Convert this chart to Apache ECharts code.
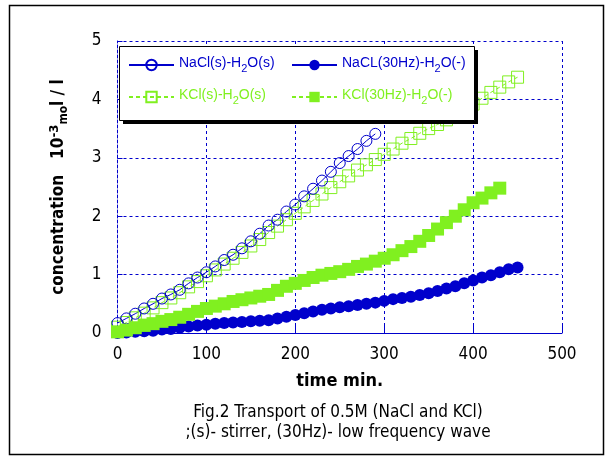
<!DOCTYPE html>
<html><head><meta charset="utf-8">
<script src="https://cdn.jsdelivr.net/npm/echarts@6/dist/echarts.min.js"></script>
<style>html,body{margin:0;padding:0;background:#fff}#c{width:609px;height:459px}</style>
</head><body><div id="c"></div>
<script>
// ---- data ----
var xTicks = [0, 100, 200, 300, 400, 500];
var yTicks = [0, 1, 2, 3, 4, 5];
var seriesNames = ['NaCl(s)-H2O(s)', 'NaCL(30Hz)-H2O(-)', 'KCl(s)-H2O(s)', 'KCl(30Hz)-H2O(-)'];

var tNaClS = [0,10,20,30,40,50,60,70,80,90,100,110,120,130,140,150,160,170,180,190,200,210,220,230,240,250,260,270,280,290];
var vNaClS = [0.17,0.25,0.33,0.42,0.50,0.59,0.66,0.74,0.85,0.95,1.04,1.14,1.25,1.34,1.45,1.57,1.70,1.84,1.94,2.08,2.20,2.34,2.47,2.61,2.76,2.91,3.03,3.15,3.29,3.41];

var tKClS = [0,10,20,30,40,50,60,70,80,90,100,110,120,130,140,150,160,170,180,190,200,210,220,230,240,250,260,270,280,290,300,310,320,330,340,350,360,370,380,390,400,410,420,430,440,450];
var vKClS = [0.10,0.18,0.26,0.34,0.43,0.52,0.60,0.69,0.79,0.88,0.98,1.08,1.18,1.28,1.38,1.49,1.60,1.72,1.83,1.94,2.05,2.16,2.27,2.38,2.49,2.59,2.69,2.79,2.88,2.97,3.06,3.15,3.25,3.33,3.42,3.50,3.57,3.65,3.73,3.82,3.92,4.02,4.12,4.21,4.30,4.38];

var tNaCl30 = [0,10,20,30,40,50,60,70,80,90,100,110,120,130,140,150,160,170,180,190,200,210,220,230,240,250,260,270,280,290,300,310,320,330,340,350,360,370,380,390,400,410,420,430,440,450];
var vNaCl30 = [0.00,0.01,0.02,0.03,0.04,0.06,0.07,0.09,0.11,0.13,0.14,0.16,0.17,0.18,0.19,0.20,0.21,0.22,0.25,0.28,0.31,0.34,0.37,0.40,0.42,0.44,0.46,0.48,0.50,0.52,0.55,0.58,0.60,0.62,0.65,0.68,0.72,0.76,0.80,0.85,0.90,0.95,0.99,1.04,1.09,1.12];

var tKCl30 = [0,10,20,30,40,50,60,70,80,90,100,110,120,130,140,150,160,170,180,190,200,210,220,230,240,250,260,270,280,290,300,310,320,330,340,350,360,370,380,390,400,410,420,430];
var vKCl30 = [0.02,0.05,0.09,0.13,0.16,0.20,0.23,0.27,0.32,0.37,0.42,0.46,0.50,0.54,0.57,0.60,0.63,0.66,0.73,0.80,0.85,0.90,0.95,0.99,1.02,1.05,1.09,1.14,1.18,1.23,1.28,1.34,1.41,1.48,1.57,1.67,1.78,1.89,2.00,2.11,2.23,2.31,2.40,2.48];

function pairs(t, v) { return t.map(function (x, i) { return [x, v[i]]; }); }

var BLUE = '#0000cc';
var GREEN = '#80f020';
var FONT = '"DejaVu Sans Condensed","Liberation Sans Narrow",sans-serif';
var LFONT = '"Liberation Sans",Arial,sans-serif';

function legendFmt(name) {
  var i = name.indexOf('H2O');
  return '{a|' + name.slice(0, i + 1) + '}{s|2}{a|' + name.slice(i + 2) + '}';
}
function legendRich(color) {
  return {
    a: { fontFamily: LFONT, fontSize: 14, color: color, lineHeight: 18, verticalAlign: 'top' },
    s: { fontFamily: LFONT, fontSize: 11, color: color, lineHeight: 18, verticalAlign: 'bottom', padding: [10, 0, 0, 0] }
  };
}
function mkLegend(name, left, top, color) {
  return {
    data: [name], left: left, top: top, orient: 'horizontal',
    itemWidth: 45, itemHeight: 13, itemGap: 0, selectedMode: false,
    formatter: legendFmt,
    textStyle: { color: color, fontFamily: LFONT, fontSize: 14, rich: legendRich(color) }
  };
}

var chart = echarts.init(document.getElementById('c'), null, { renderer: 'canvas' });
chart.setOption({
  animation: false,
  backgroundColor: '#fff',
  title: {
    text: 'Fig.2 Transport of 0.5M (NaCl and KCl)\n;(s)- stirrer, (30Hz)- low frequency wave',
    left: 333, top: 398, textAlign: 'center',
    textStyle: { fontFamily: FONT, fontSize: 17, fontWeight: 'normal', color: '#000', lineHeight: 20 }
  },
  graphic: [
    { type: 'rect', z: 0, silent: true, shape: { x: 9.5, y: 5.5, width: 594, height: 449 }, style: { fill: null, stroke: '#000', lineWidth: 1.5 } },
    { type: 'rect', z: 3, silent: true, shape: { x: 123, y: 50, width: 355, height: 74 }, style: { fill: '#000' } },
    { type: 'rect', z: 3, silent: true, shape: { x: 119.5, y: 46.5, width: 355, height: 74 }, style: { fill: '#fff', stroke: '#000', lineWidth: 1 } }
  ],
  legend: [
    mkLegend(seriesNames[0], 123, 48, BLUE),
    mkLegend(seriesNames[1], 286, 48, BLUE),
    mkLegend(seriesNames[2], 123, 80, GREEN),
    mkLegend(seriesNames[3], 286, 80, GREEN)
  ],
  grid: { left: 117.5, right: 47, top: 41, bottom: 126, containLabel: false },
  xAxis: {
    type: 'value', min: xTicks[0], max: xTicks[xTicks.length - 1], interval: 100,
    name: 'time min.', nameLocation: 'middle', nameGap: 39,
    nameTextStyle: { fontFamily: FONT, fontSize: 18, fontWeight: 'bold', color: '#000' },
    axisLine: { lineStyle: { color: BLUE, width: 1 } },
    axisTick: { inside: true, length: 8, lineStyle: { color: BLUE } },
    axisLabel: { margin: 13, fontFamily: FONT, fontSize: 17, color: '#000' },
    splitLine: { show: true, showMinLine: false, lineStyle: { color: BLUE, type: [3, 3], width: 1 } }
  },
  yAxis: {
    type: 'value', min: yTicks[0], max: yTicks[yTicks.length - 1], interval: 1,
    name: 'concentration   10{sup|-3}{sm|mo}l / l', nameLocation: 'middle', nameGap: 48, nameRotate: 90,
    nameTextStyle: {
      fontFamily: FONT, fontSize: 17, fontWeight: 'bold', color: '#000',
      rich: {
        sup: { fontFamily: FONT, fontSize: 13, fontWeight: 'bold', color: '#000', verticalAlign: 'top', padding: [0, 0, 8, 0] },
        sm: { fontFamily: FONT, fontSize: 12, fontWeight: 'bold', color: '#000', verticalAlign: 'bottom' }
      }
    },
    axisLine: { lineStyle: { color: BLUE, width: 1, type: [3, 2] } },
    axisTick: { inside: true, length: 5, lineStyle: { color: BLUE } },
    axisLabel: { margin: 16, fontFamily: FONT, fontSize: 17, color: '#000' },
    splitLine: { show: true, showMinLine: false, lineStyle: { color: BLUE, type: [3, 3], width: 1 } }
  },
  series: [
    {
      name: seriesNames[2], type: 'line', data: pairs(tKClS, vKClS), z: 2,
      symbol: 'rect', symbolSize: 12,
      lineStyle: { color: GREEN, width: 1, type: [4, 3] },
      itemStyle: { color: 'rgba(0,0,0,0)', borderColor: GREEN, borderWidth: 1 }
    },
    {
      name: seriesNames[0], type: 'line', data: pairs(tNaClS, vNaClS), z: 2,
      symbol: 'circle', symbolSize: 11,
      lineStyle: { color: BLUE, width: 1 },
      itemStyle: { color: 'rgba(0,0,0,0)', borderColor: BLUE, borderWidth: 1 }
    },
    {
      name: seriesNames[1], type: 'line', data: pairs(tNaCl30, vNaCl30), z: 2,
      symbol: 'circle', symbolSize: 12,
      lineStyle: { color: BLUE, width: 1 },
      itemStyle: { color: BLUE, borderColor: BLUE, borderWidth: 0 }
    },
    {
      name: seriesNames[3], type: 'line', data: pairs(tKCl30, vKCl30), z: 2,
      symbol: 'rect', symbolSize: 13,
      lineStyle: { color: GREEN, width: 1, type: [4, 3] },
      itemStyle: { color: GREEN, borderColor: GREEN, borderWidth: 0 }
    }
  ]
});
</script>
</body></html>
